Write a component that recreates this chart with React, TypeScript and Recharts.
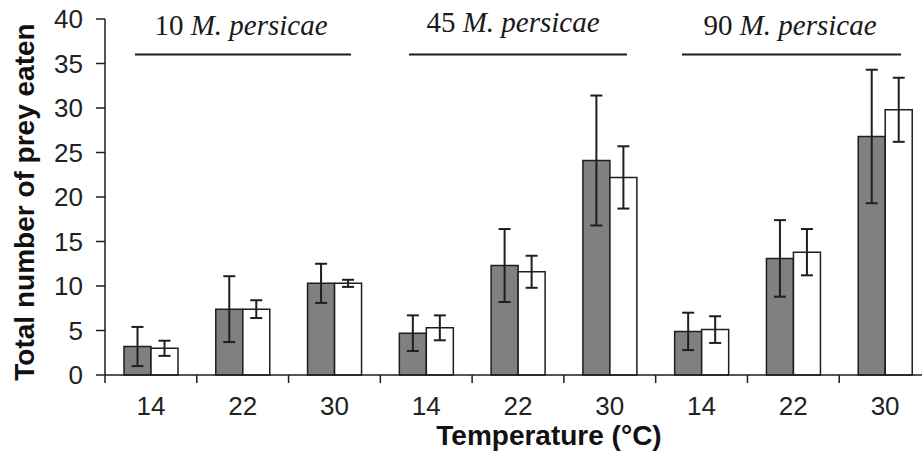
import { BarChart, Bar, XAxis, YAxis, ErrorBar } from "recharts";

// temperature of each bar pair, three prey densities side by side
const temps = ["14", "22", "30", "14", "22", "30", "14", "22", "30"];
const grayMeans = [3.2, 7.4, 10.3, 4.7, 12.3, 24.1, 4.9, 13.1, 26.8];
const grayErr = [2.2, 3.7, 2.2, 2.0, 4.1, 7.3, 2.1, 4.3, 7.5];
const whiteMeans = [3.0, 7.4, 10.3, 5.3, 11.6, 22.2, 5.1, 13.8, 29.8];
const whiteErr = [0.85, 1.0, 0.4, 1.4, 1.8, 3.5, 1.5, 2.6, 3.6];
const yTicks = [0, 5, 10, 15, 20, 25, 30, 35, 40];
const densities = ["10", "45", "90"];

const chartData = temps.map((t, i) => ({
  temp: t,
  gray: grayMeans[i],
  grayErr: grayErr[i],
  white: whiteMeans[i],
  whiteErr: whiteErr[i],
}));

const INK = "#1e1e1e";
const AXIS_FONT = "'Liberation Sans', Arial, sans-serif";

// eslint-disable-next-line @typescript-eslint/no-explicit-any
function TempTick({ x, y, payload }: any) {
  const half = payload?.offset ?? 45.9;
  return (
    <g>
      <line x1={x - half} x2={x - half} y1={y} y2={y + 8} stroke={INK} strokeWidth={1.5} />
      <text x={x} y={y + 40} textAnchor="middle" fontSize={26} fontFamily={AXIS_FONT} fill="#222">
        {payload.value}
      </text>
    </g>
  );
}

// group captions above each density block
const groupBoxes = [
  { cx: 241, base: 35, x1: 135, x2: 351 },
  { cx: 513, base: 32, x1: 409, x2: 627 },
  { cx: 790, base: 35, x1: 682, x2: 901 },
];

export default function App() {
  return (
    <div style={{ position: "absolute", left: 0, top: 0, width: 922, height: 455, overflow: "hidden", background: "#fff" }}>
      <BarChart
        width={931}
        height={455}
        data={chartData}
        margin={{ top: 19, right: 0, bottom: 0, left: 0 }}
        barGap={0}
        barSize={27}
      >
        <XAxis
          dataKey="temp"
          height={80}
          tickLine={false}
          tickSize={0}
          tickMargin={0}
          interval={0}
          axisLine={{ stroke: INK, strokeWidth: 1.5 }}
          tick={<TempTick />}
          label={{
            value: "Temperature (°C)",
            position: "insideBottom",
            offset: 10,
            dx: 31,
            fontSize: 28,
            fontWeight: "bold",
            fontFamily: AXIS_FONT,
            fill: "#111",
          }}
        />
        <YAxis
          width={105}
          domain={[0, 40]}
          ticks={yTicks}
          interval={0}
          tickSize={9}
          tickMargin={13}
          axisLine={{ stroke: INK, strokeWidth: 1.5 }}
          tickLine={{ stroke: INK, strokeWidth: 1.5 }}
          tick={{ fontSize: 26, fontFamily: AXIS_FONT, fill: "#222" }}
          label={{
            value: "Total number of prey eaten",
            angle: -90,
            position: "center",
            dx: -28,
            dy: 5,
            fontSize: 28,
            fontWeight: "bold",
            fontFamily: AXIS_FONT,
            fill: "#111",
          }}
        />
        <Bar dataKey="gray" fill="#808080" stroke={INK} strokeWidth={1.5} isAnimationActive={false}>
          <ErrorBar dataKey="grayErr" width={6} stroke={INK} strokeWidth={2} />
        </Bar>
        <Bar dataKey="white" fill="#ffffff" stroke={INK} strokeWidth={1.5} isAnimationActive={false}>
          <ErrorBar dataKey="whiteErr" width={6} stroke={INK} strokeWidth={2} />
        </Bar>
      </BarChart>
      <svg width={922} height={455} style={{ position: "absolute", left: 0, top: 0, pointerEvents: "none" }}>
        {groupBoxes.map((g, i) => (
          <g key={densities[i]}>
            <text
              x={g.cx}
              y={g.base}
              textAnchor="middle"
              fontSize={29}
              fontFamily="'Liberation Serif', 'Times New Roman', serif"
              fill="#1a1a1a"
            >
              {densities[i]} <tspan fontStyle="italic">M. persicae</tspan>
            </text>
            <line x1={g.x1} x2={g.x2} y1={54.5} y2={54.5} stroke={INK} strokeWidth={2} />
          </g>
        ))}
      </svg>
    </div>
  );
}
